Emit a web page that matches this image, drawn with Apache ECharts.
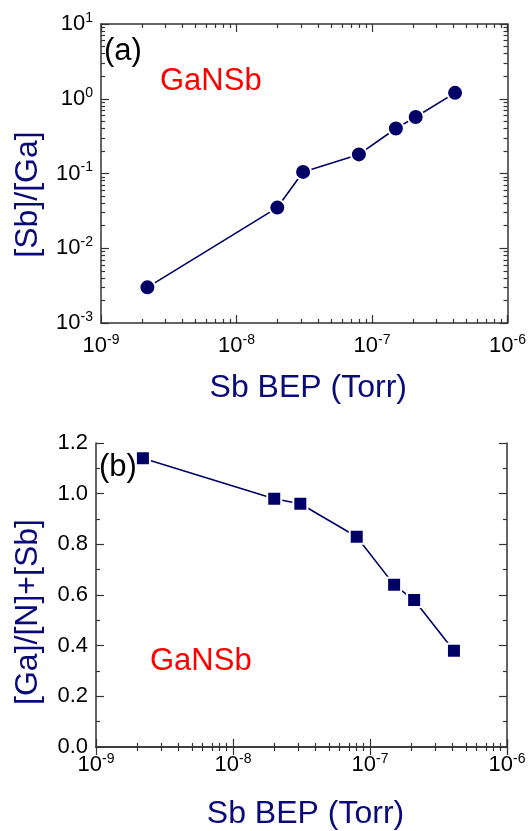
<!DOCTYPE html>
<html>
<head>
<meta charset="utf-8">
<script src="https://cdn.jsdelivr.net/npm/echarts@6/dist/echarts.min.js"></script>
<style>
  html, body { margin: 0; padding: 0; background: #fff; }
  #chart { width: 529px; height: 831px; }
</style>
</head>
<body>
<div id="chart"></div>
<script>
// Sb beam equivalent pressure (Torr), same for both panels
const sbBep = [2.2e-9, 2.0e-8, 3.1e-8, 8.0e-8, 1.5e-7, 2.1e-7, 4.1e-7];
// panel (a): [Sb]/[Ga]
const sbGaRatio = [0.003, 0.035, 0.105, 0.18, 0.40, 0.57, 1.2];
// panel (b): [Ga]/([N]+[Sb])
const gaNSbRatio = [1.14, 0.98, 0.96, 0.83, 0.64, 0.58, 0.38];

const navy = "#000066";
const titleNavy = "#0a0a78";
const font = "Liberation Sans, Arial, sans-serif";

(function () {
  const chart = echarts.init(document.getElementById("chart"));

  // 10 with superscript exponent
  function pow10Label(v) {
    const e = Math.round(Math.log10(v));
    return "{b|10}{s|" + e + "}";
  }
  const powRich = {
    b: { fontSize: 22, fontFamily: font, color: "#000" },
    s: { fontSize: 14, fontFamily: font, color: "#000", padding: [0, 0, 12, 0] }
  };

  const axisLine = { lineStyle: { color: "#333", width: 1.5 } };
  const axisTick = { inside: true, length: 8, lineStyle: { color: "#333", width: 1.2 } };

  function titleStyle(padding) {
    return { fontSize: 32, fontFamily: font, color: titleNavy, padding };
  }

  function minor(n) {
    return { show: true, splitNumber: n, length: 4, lineStyle: { color: "#333", width: 1.2 } };
  }

  function logX(gridIndex, pos, labelMargin, nameGap) {
    const main = pos === "bottom";
    return {
      type: "log",
      logBase: 10,
      gridIndex,
      position: pos,
      min: 1e-9,
      max: 1e-6,
      axisLine,
      axisTick,
      minorTick: minor(9),
      splitLine: { show: false },
      axisLabel: main
        ? { show: true, margin: labelMargin, formatter: pow10Label, rich: powRich }
        : { show: false },
      name: main ? "Sb BEP (Torr)" : "",
      nameLocation: "middle",
      nameGap: nameGap || 0,
      nameTextStyle: titleStyle([0, 0, 0, 8])
    };
  }

  function logYA(pos) {
    const main = pos === "left";
    return {
      type: "log",
      logBase: 10,
      gridIndex: 0,
      position: pos,
      min: 1e-3,
      max: 10,
      axisLine,
      axisTick,
      minorTick: minor(9),
      splitLine: { show: false },
      axisLabel: main ? { margin: 8, formatter: pow10Label, rich: powRich } : { show: false },
      name: main ? "[Sb]/[Ga]" : "",
      nameLocation: "middle",
      nameGap: 57,
      nameTextStyle: titleStyle([0, 42, 0, 0])
    };
  }

  function linYB(pos) {
    const main = pos === "left";
    return {
      type: "value",
      gridIndex: 1,
      position: pos,
      min: 0,
      max: 1.2,
      interval: 0.2,
      axisLine,
      axisTick,
      minorTick: minor(2),
      splitLine: { show: false },
      axisLabel: main
        ? { margin: 8, fontSize: 22, fontFamily: font, color: "#000", formatter: (v) => v.toFixed(1) }
        : { show: false },
      name: main ? "[Ga]/[N]+[Sb]" : "",
      nameLocation: "middle",
      nameGap: 52,
      nameTextStyle: titleStyle([0, 34, 0, 0])
    };
  }

  const option = {
    animation: false,
    backgroundColor: "#fff",
    grid: [
      { left: 101, top: 24, right: 20, height: 299 },
      { left: 96, top: 443, right: 22, height: 305 }
    ],
    xAxis: [logX(0, "bottom", 10, 49), logX(0, "top"), logX(1, "bottom", 5, 51), logX(1, "top")],
    yAxis: [logYA("left"), logYA("right"), linYB("left"), linYB("right")],
    series: [
      {
        type: "line",
        xAxisIndex: 0,
        yAxisIndex: 0,
        data: sbBep.map((x, i) => [x, sbGaRatio[i]]),
        symbol: "circle",
        symbolSize: 16,
        lineStyle: { color: navy, width: 1.6 },
        itemStyle: { color: navy, borderColor: "#fff", borderWidth: 2 },
        z: 3
      },
      {
        type: "line",
        xAxisIndex: 2,
        yAxisIndex: 2,
        data: sbBep.map((x, i) => [x, gaNSbRatio[i]]),
        symbol: "rect",
        symbolSize: 14,
        lineStyle: { color: navy, width: 1.6 },
        itemStyle: { color: navy, borderColor: "#fff", borderWidth: 2 },
        z: 3
      }
    ],
    graphic: [
      { type: "text", left: 104, top: 36, style: { text: "(a)", fontSize: 31, fontFamily: font, fill: "#000" } },
      { type: "text", left: 160, top: 66, style: { text: "GaNSb", fontSize: 31, fontFamily: font, fill: "#ff0000" } },
      { type: "text", left: 99, top: 452, style: { text: "(b)", fontSize: 31, fontFamily: font, fill: "#000" } },
      { type: "text", left: 150, top: 646, style: { text: "GaNSb", fontSize: 31, fontFamily: font, fill: "#ff0000" } }
    ]
  };

  chart.setOption(option);
  window.addEventListener("resize", () => chart.resize());
})();
</script>
</body>
</html>
